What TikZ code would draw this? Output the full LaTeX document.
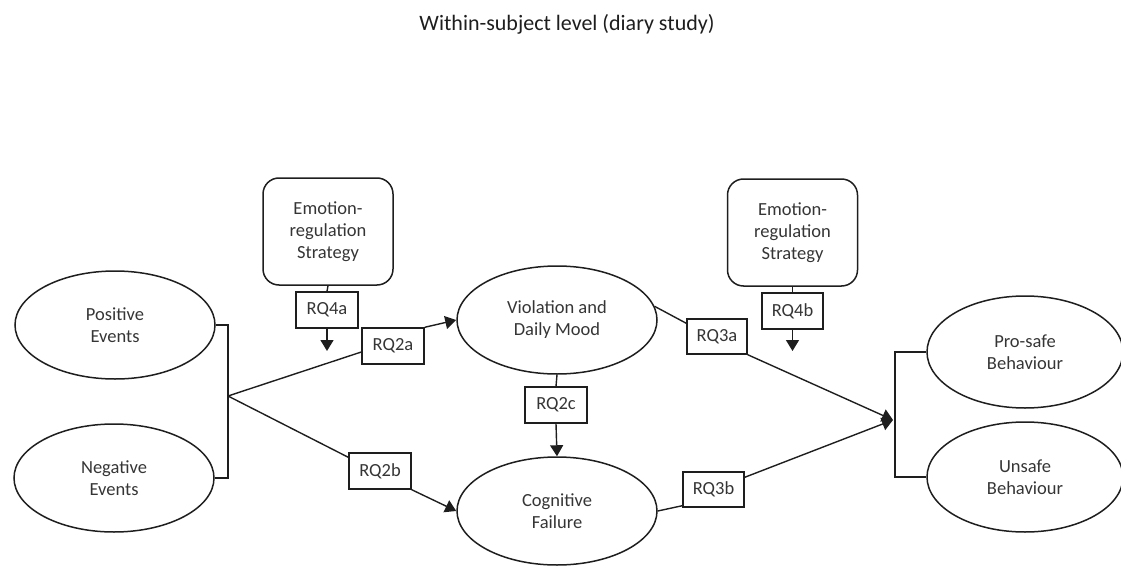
\documentclass[tikz,border=0pt]{standalone}
\usepackage{fontspec}
\setmainfont{Carlito}
\usetikzlibrary{arrows.meta,shapes.geometric}
\definecolor{ink}{HTML}{1E1E1E}
\definecolor{txt}{HTML}{353535}
\begin{document}
\begin{tikzpicture}[x=1pt,y=-1pt,
  every node/.style={font=\fontsize{18.5}{22}\selectfont, text=txt, align=center, inner sep=0pt},
  construct/.style={ellipse, draw=ink, line width=1.5pt, minimum width=200pt, minimum height=108pt},
  moderator/.style={rectangle, rounded corners=16pt, draw=ink, line width=1.5pt, minimum width=130pt, minimum height=107pt},
  rqbox/.style={rectangle, draw=ink, line width=1.4pt, minimum width=62pt, minimum height=36pt},
  link/.style={draw=ink, line width=1.4pt},
  path/.style={link, -{Triangle[width=13pt,length=11pt]}}]
\useasboundingbox (0,0) rectangle (1121,567);

% heading
\node[text=ink, font=\fontsize{22}{26}\selectfont] (title) at (567,24) {Within-subject level (diary study)};

% constructs
\node[construct] (pos)  at (115,325)  {Positive\\Events};
\node[construct] (neg)  at (114,478)  {Negative\\Events};
\node[construct] (viol) at (557,320)  {Violation and\\Daily Mood};
\node[construct] (cogn) at (557,511)  {Cognitive\\Failure};
\node[construct, minimum width=196pt, minimum height=112pt] (pro)    at (1025,352) {Pro-safe\\Behaviour};
\node[construct, minimum width=196pt, minimum height=110pt] (unsafe) at (1025,477) {Unsafe\\Behaviour};

% moderators
\node[moderator] (er1) at (328,231.5) {Emotion-\\regulation\\Strategy};
\node[moderator] (er2) at (792.5,232.5) {Emotion-\\regulation\\Strategy};

% research-question labels
\node[rqbox] (rq4a) at (327,310)   {RQ4a};
\node[rqbox] (rq2a) at (393,346)   {RQ2a};
\node[rqbox] (rq2b) at (380,471)   {RQ2b};
\node[rqbox] (rq2c) at (556,405)   {RQ2c};
\node[rqbox, minimum width=60pt, minimum height=35pt] (rq3a) at (717,336.5) {RQ3a};
\node[rqbox, minimum width=61pt, minimum height=35pt] (rq3b) at (713.5,489.5) {RQ3b};
\node[rqbox, minimum width=61pt] (rq4b) at (792.5,311) {RQ4b};

% junctions and free ends
\coordinate (jl) at (228,396);
\coordinate (jr) at (893,420);
\coordinate (m1) at (327,351);
\coordinate (m2) at (792.5,351);

% predictor bracket
\draw[link] (pos.east) -- (228,325) -- (228,478) -- (neg.east);
% outcome bracket
\draw[link] (pro.west) -- (895,352) -- (895,477) -- (unsafe.west);

% paths from events
\draw[link] (jl) -- ([yshift=-6pt]rq2a.west);
\draw[path] (rq2a.north east) -- (viol.west);
\draw[link] (jl) -- ([yshift=-5pt]rq2b.north west);
\draw[path] (rq2b.south east) -- (cogn.west);

% mood to cognitive failure
\draw[link] (viol.south) -- (rq2c.north);
\draw[path] (rq2c.south) -- (cogn.north);

% paths to behaviour
\draw[link] (viol.8) -- ([yshift=-5pt]rq3a.north west);
\draw[path] (rq3a.south east) -- (jr);
\draw[link] (cogn.east) -- ([yshift=2pt]rq3b.south west);
\draw[path] ([yshift=-6pt]rq3b.north east) -- (jr);

% moderation arrows
\draw[link] (er1.south) -- (rq4a.north);
\draw[path] (rq4a.south) -- (m1);
\draw[link] (er2.south) -- (rq4b.north);
\draw[path] (rq4b.south) -- (m2);
\end{tikzpicture}
\end{document}
